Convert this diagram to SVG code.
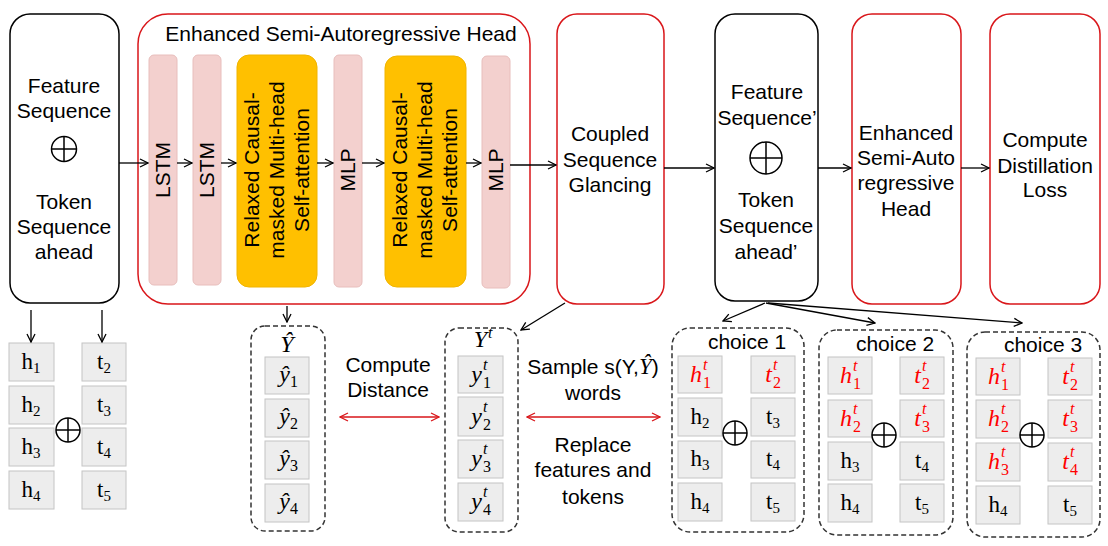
<svg xmlns="http://www.w3.org/2000/svg" width="1108" height="546" viewBox="0 0 1108 546">
<style>
.t{font-family:"Liberation Sans",Arial,sans-serif;font-size:21px;fill:#000;text-anchor:middle}
.bb{fill:#fff;stroke:#000;stroke-width:1.5}
.rb{fill:#fff;stroke:#D9161A;stroke-width:1.5}
.db{fill:none;stroke:#333;stroke-width:1.5;stroke-dasharray:5 3}
.pk{fill:#F3D0CE;stroke:#E8BEBC;stroke-width:1}
.yl{fill:#FFC000;stroke:#F0B400;stroke-width:1}
.cell{fill:#EDEDED;stroke:#C4C4C4;stroke-width:1}
.sr{font-family:"Liberation Serif","Times New Roman",serif;font-size:23px;fill:#000;text-anchor:middle}
.mi{font-family:"Liberation Serif","Times New Roman",serif;font-style:italic;font-size:24px;fill:#000}
.ms{font-family:"Liberation Serif","Times New Roman",serif;font-style:italic;font-size:16px;fill:#000}
.mn{font-family:"Liberation Serif","Times New Roman",serif;font-size:16px;fill:#000}
.red{fill:#FF0000}
.ox{fill:none;stroke:#000;stroke-width:1.5}
.c{fill:none;stroke:#000;stroke-width:1.3}
.cr{fill:none;stroke:#D9161A;stroke-width:1.3}
</style>
<defs>
<marker id="a" viewBox="0 0 10 10" refX="9" refY="5" markerWidth="10" markerHeight="10" orient="auto" markerUnits="userSpaceOnUse"><path d="M1,1 L9,5 L1,9" fill="none" stroke="#000" stroke-width="1.3"/></marker>
<marker id="ar" viewBox="0 0 10 10" refX="9" refY="5" markerWidth="10" markerHeight="10" orient="auto-start-reverse" markerUnits="userSpaceOnUse"><path d="M1,1 L9,5 L1,9" fill="none" stroke="#D9161A" stroke-width="1.3"/></marker>
</defs>
<rect width="1108" height="546" fill="#fff"/>

<g id="input">
<rect class="bb" x="10" y="14" width="109" height="289" rx="20"/>
<text class="t" x="64" y="93">Feature</text>
<text class="t" x="64" y="118">Sequence</text>
<circle class="ox" cx="64" cy="149" r="12.5"/><path class="ox" d="M51.5,149H76.5M64,136.5V161.5"/>
<text class="t" x="64" y="209">Token</text>
<text class="t" x="64" y="234">Sequence</text>
<text class="t" x="64" y="259">ahead</text>
</g>

<g id="esa-head">
<rect class="rb" x="138" y="14" width="392" height="290" rx="30"/>
<text class="t" x="341" y="41">Enhanced Semi-Autoregressive Head</text>
</g>
<g id="lstm1"><rect class="pk" x="149" y="55" width="28" height="230" rx="5"/><text class="t" transform="translate(163,170) rotate(-90)" y="7">LSTM</text></g>
<g id="lstm2"><rect class="pk" x="193" y="55" width="28" height="230" rx="5"/><text class="t" transform="translate(207,170) rotate(-90)" y="7">LSTM</text></g>
<g id="attn1"><rect class="yl" x="237" y="55" width="80" height="232" rx="12"/>
<text class="t" transform="translate(277,170) rotate(-90)"><tspan x="0" y="-18">Relaxed Causal-</tspan><tspan x="0" y="7">masked Multi-head</tspan><tspan x="0" y="32">Self-attention</tspan></text></g>
<g id="mlp1"><rect class="pk" x="334" y="55" width="28" height="232" rx="5"/><text class="t" transform="translate(348,170) rotate(-90)" y="7">MLP</text></g>
<g id="attn2"><rect class="yl" x="385" y="56" width="81" height="231" rx="12"/>
<text class="t" transform="translate(425,170) rotate(-90)"><tspan x="0" y="-18">Relaxed Causal-</tspan><tspan x="0" y="7">masked Multi-head</tspan><tspan x="0" y="32">Self-attention</tspan></text></g>
<g id="mlp2"><rect class="pk" x="482" y="56" width="28" height="232" rx="5"/><text class="t" transform="translate(496,170) rotate(-90)" y="7">MLP</text></g>

<g id="glancing">
<rect class="rb" x="557" y="14" width="107" height="290" rx="20"/>
<text class="t" x="610" y="141">Coupled</text>
<text class="t" x="610" y="167">Sequence</text>
<text class="t" x="610" y="192">Glancing</text>
</g>

<g id="input2">
<rect class="bb" x="715" y="14" width="103" height="287" rx="20"/>
<text class="t" x="767" y="99">Feature</text>
<text class="t" x="767" y="125">Sequence’</text>
<circle class="ox" cx="766" cy="158" r="16"/><path class="ox" d="M750,158H782M766,142V174"/>
<text class="t" x="766" y="207">Token</text>
<text class="t" x="766" y="233">Sequence</text>
<text class="t" x="766" y="259">ahead’</text>
</g>

<g id="esa-head2">
<rect class="rb" x="852" y="14" width="109" height="290" rx="20"/>
<text class="t" x="906" y="140">Enhanced</text>
<text class="t" x="906" y="165">Semi-Auto</text>
<text class="t" x="906" y="190">regressive</text>
<text class="t" x="906" y="216">Head</text>
</g>

<g id="distill">
<rect class="rb" x="990" y="14" width="110" height="290" rx="20"/>
<text class="t" x="1045" y="147">Compute</text>
<text class="t" x="1045" y="173">Distillation</text>
<text class="t" x="1045" y="197">Loss</text>
</g>

<g id="grid0">
<rect class="cell" x="9" y="343" width="45" height="38"/><text class="sr" x="31" y="369">h<tspan font-size="15" dy="4">1</tspan></text>
<rect class="cell" x="9" y="386" width="45" height="38"/><text class="sr" x="31" y="412">h<tspan font-size="15" dy="4">2</tspan></text>
<rect class="cell" x="9" y="428" width="45" height="38"/><text class="sr" x="31" y="454">h<tspan font-size="15" dy="4">3</tspan></text>
<rect class="cell" x="9" y="471" width="45" height="38"/><text class="sr" x="31" y="497">h<tspan font-size="15" dy="4">4</tspan></text>
<rect class="cell" x="82" y="343" width="44" height="38"/><text class="sr" x="104" y="369">t<tspan font-size="15" dy="4">2</tspan></text>
<rect class="cell" x="82" y="386" width="44" height="38"/><text class="sr" x="104" y="412">t<tspan font-size="15" dy="4">3</tspan></text>
<rect class="cell" x="82" y="428" width="44" height="38"/><text class="sr" x="104" y="454">t<tspan font-size="15" dy="4">4</tspan></text>
<rect class="cell" x="82" y="471" width="44" height="38"/><text class="sr" x="104" y="497">t<tspan font-size="15" dy="4">5</tspan></text>
<circle class="ox" cx="68" cy="430" r="12"/><path class="ox" d="M56,430H80M68,418V442"/>
</g>

<g id="yhat">
<rect class="db" x="251" y="326" width="74" height="205" rx="14"/>
<text class="mi" x="287" y="352" text-anchor="middle">Ŷ</text>
<rect class="cell" x="265" y="357" width="44" height="37"/><text class="mi" x="290" y="382" text-anchor="end">ŷ</text><text class="mn" x="290" y="387">1</text>
<rect class="cell" x="265" y="399" width="44" height="38"/><text class="mi" x="290" y="424" text-anchor="end">ŷ</text><text class="mn" x="290" y="429">2</text>
<rect class="cell" x="265" y="441" width="44" height="38"/><text class="mi" x="290" y="466" text-anchor="end">ŷ</text><text class="mn" x="290" y="471">3</text>
<rect class="cell" x="265" y="484" width="44" height="38"/><text class="mi" x="290" y="509" text-anchor="end">ŷ</text><text class="mn" x="290" y="514">4</text>
</g>

<g id="yt">
<rect class="db" x="445" y="328" width="73" height="204" rx="14"/>
<text class="mi" x="487" y="347" text-anchor="end">Y</text><text class="ms" x="488" y="338">t</text>
<rect class="cell" x="458" y="356" width="45" height="37"/><text class="mi" x="482" y="382" text-anchor="end">y</text><text class="ms" x="483" y="370">t</text><text class="mn" x="483" y="388">1</text>
<rect class="cell" x="458" y="397" width="45" height="39"/><text class="mi" x="482" y="424" text-anchor="end">y</text><text class="ms" x="483" y="412">t</text><text class="mn" x="483" y="430">2</text>
<rect class="cell" x="458" y="440" width="45" height="38"/><text class="mi" x="482" y="466" text-anchor="end">y</text><text class="ms" x="483" y="454">t</text><text class="mn" x="483" y="472">3</text>
<rect class="cell" x="458" y="483" width="45" height="38"/><text class="mi" x="482" y="509" text-anchor="end">y</text><text class="ms" x="483" y="497">t</text><text class="mn" x="483" y="515">4</text>
</g>

<g id="labels">
<text class="t" x="388" y="372">Compute</text>
<text class="t" x="388" y="397">Distance</text>
<text class="t" x="593" y="374">Sample s(Y,<tspan style="font-family:'Liberation Serif',serif;font-style:italic;font-size:23px">Ŷ</tspan>)</text>
<text class="t" x="593" y="400">words</text>
<text class="t" x="593" y="452">Replace</text>
<text class="t" x="593" y="477">features and</text>
<text class="t" x="593" y="504">tokens</text>
</g>

<g id="choice1">
<rect class="db" x="672" y="328" width="132" height="204" rx="18"/>
<text class="t" x="747" y="349">choice 1</text>
<rect class="cell" x="678" y="356" width="44" height="37"/><text class="mi red" x="702" y="382" text-anchor="end">h</text><text class="ms red" x="703" y="370">t</text><text class="mn red" x="703" y="388">1</text>
<rect class="cell" x="678" y="398" width="44" height="38"/><text class="sr" x="700" y="424">h<tspan font-size="15" dy="4">2</tspan></text>
<rect class="cell" x="678" y="441" width="44" height="37"/><text class="sr" x="700" y="466">h<tspan font-size="15" dy="4">3</tspan></text>
<rect class="cell" x="678" y="483" width="44" height="38"/><text class="sr" x="700" y="509">h<tspan font-size="15" dy="4">4</tspan></text>
<rect class="cell" x="751" y="356" width="44" height="37"/><text class="mi red" x="772" y="382" text-anchor="end">t</text><text class="ms red" x="773" y="370">t</text><text class="mn red" x="773" y="388">2</text>
<rect class="cell" x="751" y="398" width="44" height="38"/><text class="sr" x="773" y="424">t<tspan font-size="15" dy="4">3</tspan></text>
<rect class="cell" x="751" y="441" width="44" height="37"/><text class="sr" x="773" y="466">t<tspan font-size="15" dy="4">4</tspan></text>
<rect class="cell" x="751" y="483" width="44" height="38"/><text class="sr" x="773" y="509">t<tspan font-size="15" dy="4">5</tspan></text>
<circle class="ox" cx="735" cy="433" r="12"/><path class="ox" d="M723,433H747M735,421V445"/>
</g>

<g id="choice2">
<rect class="db" x="819" y="330" width="134" height="205" rx="18"/>
<text class="t" x="895" y="351">choice 2</text>
<rect class="cell" x="828" y="357" width="44" height="37"/><text class="mi red" x="852" y="383" text-anchor="end">h</text><text class="ms red" x="853" y="371">t</text><text class="mn red" x="853" y="389">1</text>
<rect class="cell" x="828" y="400" width="44" height="37"/><text class="mi red" x="852" y="426" text-anchor="end">h</text><text class="ms red" x="853" y="414">t</text><text class="mn red" x="853" y="432">2</text>
<rect class="cell" x="828" y="442" width="44" height="38"/><text class="sr" x="850" y="468">h<tspan font-size="15" dy="4">3</tspan></text>
<rect class="cell" x="828" y="484" width="44" height="38"/><text class="sr" x="850" y="510">h<tspan font-size="15" dy="4">4</tspan></text>
<rect class="cell" x="900" y="357" width="44" height="37"/><text class="mi red" x="921" y="383" text-anchor="end">t</text><text class="ms red" x="922" y="371">t</text><text class="mn red" x="922" y="389">2</text>
<rect class="cell" x="900" y="400" width="44" height="37"/><text class="mi red" x="921" y="426" text-anchor="end">t</text><text class="ms red" x="922" y="414">t</text><text class="mn red" x="922" y="432">3</text>
<rect class="cell" x="900" y="442" width="44" height="38"/><text class="sr" x="922" y="468">t<tspan font-size="15" dy="4">4</tspan></text>
<rect class="cell" x="900" y="484" width="44" height="38"/><text class="sr" x="922" y="510">t<tspan font-size="15" dy="4">5</tspan></text>
<circle class="ox" cx="884" cy="435" r="12"/><path class="ox" d="M872,435H896M884,423V447"/>
</g>

<g id="choice3">
<rect class="db" x="967" y="332" width="133" height="205" rx="18"/>
<text class="t" x="1043" y="352">choice 3</text>
<rect class="cell" x="976" y="358" width="44" height="37"/><text class="mi red" x="1000" y="384" text-anchor="end">h</text><text class="ms red" x="1001" y="372">t</text><text class="mn red" x="1001" y="390">1</text>
<rect class="cell" x="976" y="400" width="44" height="38"/><text class="mi red" x="1000" y="426" text-anchor="end">h</text><text class="ms red" x="1001" y="414">t</text><text class="mn red" x="1001" y="432">2</text>
<rect class="cell" x="976" y="443" width="44" height="38"/><text class="mi red" x="1000" y="469" text-anchor="end">h</text><text class="ms red" x="1001" y="457">t</text><text class="mn red" x="1001" y="475">3</text>
<rect class="cell" x="976" y="486" width="44" height="38"/><text class="sr" x="998" y="512">h<tspan font-size="15" dy="4">4</tspan></text>
<rect class="cell" x="1048" y="358" width="44" height="37"/><text class="mi red" x="1069" y="384" text-anchor="end">t</text><text class="ms red" x="1070" y="372">t</text><text class="mn red" x="1070" y="390">2</text>
<rect class="cell" x="1048" y="400" width="44" height="38"/><text class="mi red" x="1069" y="426" text-anchor="end">t</text><text class="ms red" x="1070" y="414">t</text><text class="mn red" x="1070" y="432">3</text>
<rect class="cell" x="1048" y="443" width="44" height="38"/><text class="mi red" x="1069" y="469" text-anchor="end">t</text><text class="ms red" x="1070" y="457">t</text><text class="mn red" x="1070" y="475">4</text>
<rect class="cell" x="1048" y="486" width="44" height="38"/><text class="sr" x="1070" y="512">t<tspan font-size="15" dy="4">5</tspan></text>
<circle class="ox" cx="1032" cy="435" r="12"/><path class="ox" d="M1020,435H1044M1032,423V447"/>
</g>

<g id="connectors">
<path class="c" marker-end="url(#a)" d="M119,163H148"/>
<path class="c" marker-end="url(#a)" d="M177,163H192"/>
<path class="c" marker-end="url(#a)" d="M221,163H236"/>
<path class="c" marker-end="url(#a)" d="M317,163H333"/>
<path class="c" marker-end="url(#a)" d="M362,163H384"/>
<path class="c" marker-end="url(#a)" d="M466,163H481"/>
<path class="c" marker-end="url(#a)" d="M510,165H556"/>
<path class="c" marker-end="url(#a)" d="M664,168H714"/>
<path class="c" marker-end="url(#a)" d="M818,168H851"/>
<path class="c" marker-end="url(#a)" d="M961,168H989"/>
<path class="c" marker-end="url(#a)" d="M31,310V342"/>
<path class="c" marker-end="url(#a)" d="M102,310V342"/>
<path class="c" marker-end="url(#a)" d="M287,306V322"/>
<path class="c" marker-end="url(#a)" d="M565,303L521,330"/>
<path class="c" marker-end="url(#a)" d="M765,303L723,321"/>
<path class="c" marker-end="url(#a)" d="M766,303L875,323"/>
<path class="c" marker-end="url(#a)" d="M768,303L1022,323"/>
<path class="cr" marker-start="url(#ar)" marker-end="url(#ar)" d="M340,417H439"/>
<path class="cr" marker-start="url(#ar)" marker-end="url(#ar)" d="M527,417H660"/>
</g>
</svg>
